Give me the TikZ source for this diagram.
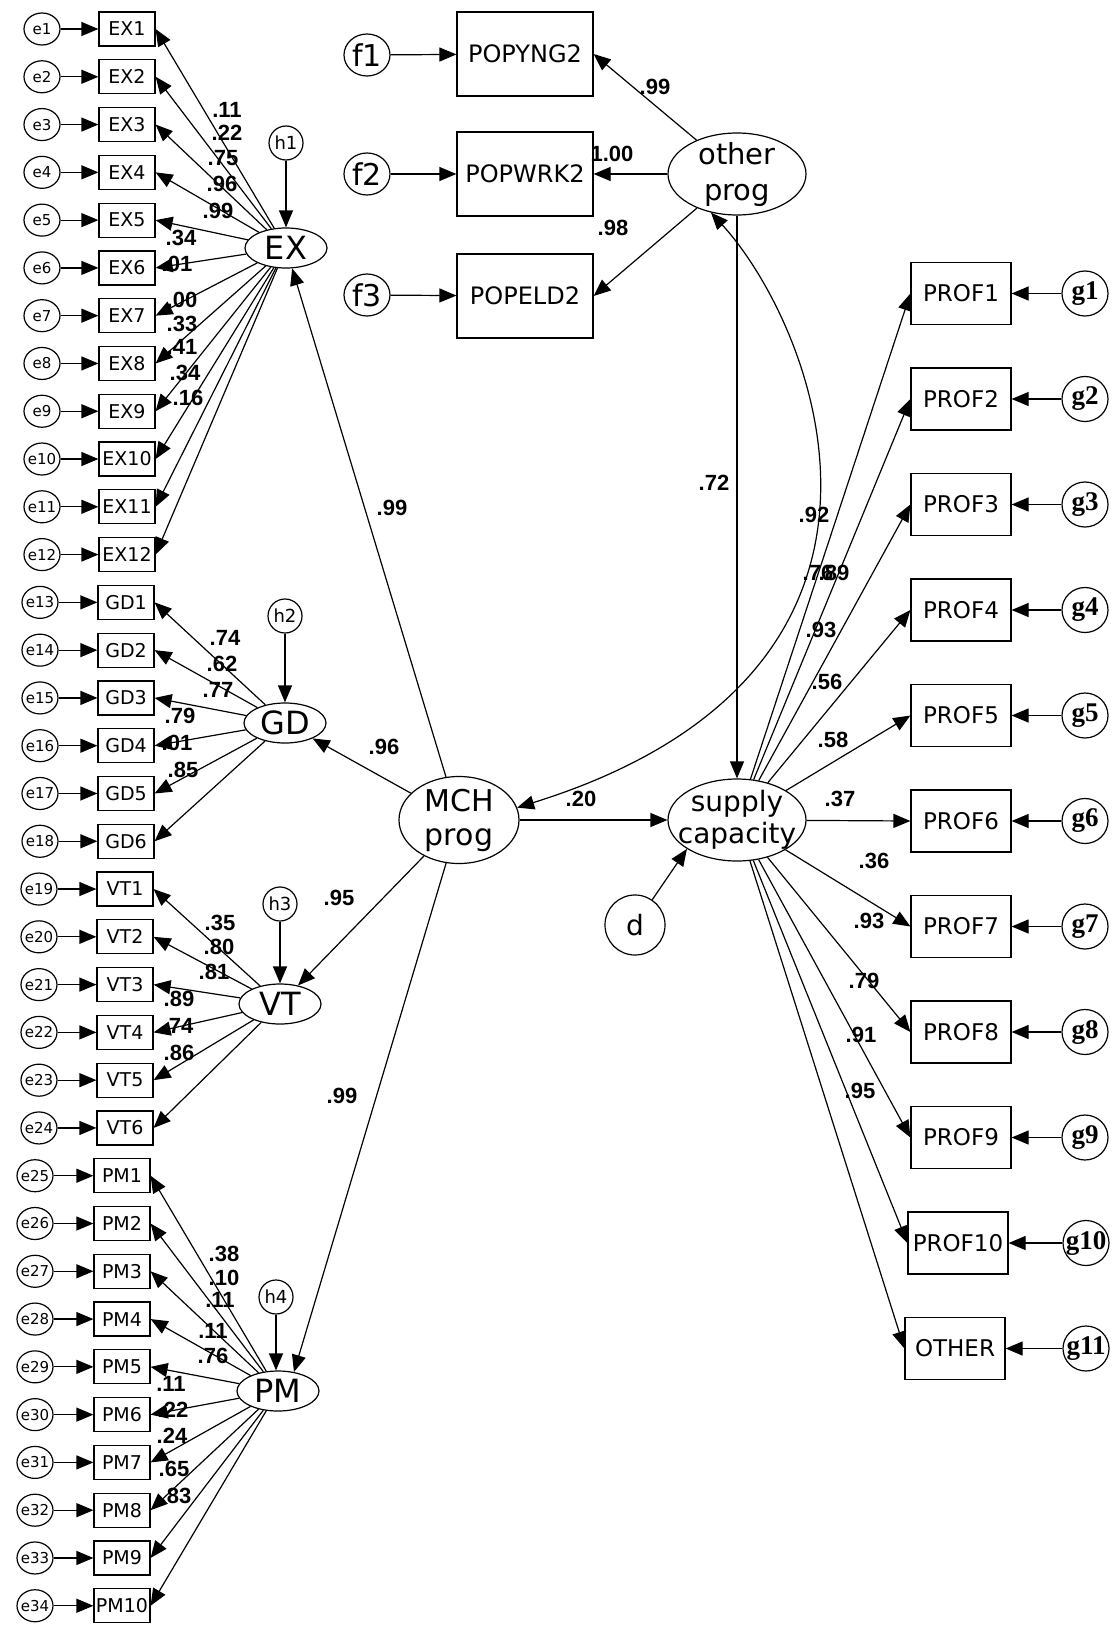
\documentclass[tikz,border=0pt]{standalone}
\usepackage{fontspec}
\setmainfont{DejaVu Sans}
\newfontfamily\numfont{Liberation Sans}
\newfontfamily\gfont{Liberation Serif}
\usetikzlibrary{arrows.meta,shapes.geometric}
\tikzset{
  >={Triangle[length=8.5pt,width=7pt]},
  arr/.style={->},
  cov/.style={<->},
  obs/.style={draw,minimum width=28pt,minimum height=17pt,inner sep=0pt,
    font=\fontsize{9.5}{10}\selectfont},
  prof/.style={draw,minimum width=50pt,minimum height=31pt,inner sep=0pt,
    font=\fontsize{11.5}{12}\selectfont},
  pop/.style={draw,minimum width=68pt,minimum height=42pt,inner sep=0pt,
    font=\fontsize{12}{13}\selectfont},
  err/.style={draw,ellipse,minimum width=18pt,minimum height=16pt,inner sep=-2pt,
    font=\fontsize{7.5}{8}\selectfont},
  dist/.style={draw,circle,minimum size=17pt,inner sep=0pt,
    font=\fontsize{9}{10}\selectfont},
  ferr/.style={draw,ellipse,minimum width=23pt,minimum height=21pt,inner sep=0pt,
    font=\fontsize{15}{16}\selectfont},
  gerr/.style={draw,ellipse,minimum width=23pt,minimum height=22.5pt,inner sep=-5pt,
    font=\gfont\bfseries\fontsize{13.5}{15}\selectfont},
  latent/.style={draw,ellipse,minimum width=41pt,minimum height=20pt,inner sep=0pt,
    font=\fontsize{16}{17}\selectfont},
  factor/.style={draw,ellipse,minimum width=69pt,minimum height=41pt,inner sep=-8pt,
    align=center,font=\fontsize{14}{16}\selectfont},
  coef/.style={inner sep=0pt,font=\numfont\bfseries\fontsize{11}{12}\selectfont}
}

\begin{document}
\begin{tikzpicture}[x=0.5pt,y=-0.5pt,line width=0.6pt]
  \useasboundingbox (0,0) rectangle (1114,1627);

  % latent variables
  \node[latent] (EX) at (286,248) {EX};
  \node[latent] (GD) at (285,723) {GD};
  \node[latent] (VT) at (280,1004) {VT};
  \node[latent] (PM) at (278,1391) {PM};
  \node[factor,minimum width=60pt,minimum height=43.5pt,font=\fontsize{15}{17}\selectfont] (mch) at (459,820) {MCH\\prog};
  \node[factor] (supply) at (737,820) {supply\\capacity};
  \node[factor,font=\fontsize{14.5}{18}\selectfont] (oprog) at (737,174) {other\\prog};

  % disturbances
  \node[dist] (h1) at (286,143) {h1};
  \node[dist] (h2) at (285,616) {h2};
  \node[dist] (h3) at (280,904) {h3};
  \node[dist] (h4) at (276,1297) {h4};
  \node[draw,circle,minimum size=30pt,inner sep=0pt,font=\fontsize{14}{15}\selectfont] (d) at (635,925) {d};

  % EX block
  \foreach \i in {1,...,12}{
    \pgfmathsetmacro\ry{29+47.78*(\i-1)}
    \node[err] (e\i) at (42,\ry) {e\i};
    \node[obs] (ex\i) at (127,\ry) {EX\i};
    \draw[arr] (e\i) -- (ex\i);
    \draw[arr] (EX) -- (ex\i.east);
  }
  % GD block
  \foreach \i in {1,...,6}{
    \pgfmathtruncatemacro\k{\i+12}
    \pgfmathsetmacro\ry{29+47.78*(\k-1)}
    \node[err] (e\k) at (40,\ry) {e\k};
    \node[obs] (gd\i) at (126,\ry) {GD\i};
    \draw[arr] (e\k) -- (gd\i);
    \draw[arr] (GD) -- (gd\i.east);
  }
  % VT block
  \foreach \i in {1,...,6}{
    \pgfmathtruncatemacro\k{\i+18}
    \pgfmathsetmacro\ry{29+47.78*(\k-1)}
    \node[err] (e\k) at (39,\ry) {e\k};
    \node[obs] (vt\i) at (125,\ry) {VT\i};
    \draw[arr] (e\k) -- (vt\i);
    \draw[arr] (VT) -- (vt\i.east);
  }
  % PM block
  \foreach \i in {1,...,10}{
    \pgfmathtruncatemacro\k{\i+24}
    \pgfmathsetmacro\ry{29+47.78*(\k-1)}
    \node[err] (e\k) at (35,\ry) {e\k};
    \node[obs] (pm\i) at (122,\ry) {PM\i};
    \draw[arr] (e\k) -- (pm\i);
    \draw[arr] (PM) -- (pm\i.east);
  }

  % other prog indicators
  \node[pop] (popyng2) at (525,54) {POPYNG2};
  \node[pop] (popwrk2) at (525,174) {POPWRK2};
  \node[pop] (popeld2) at (525,296) {POPELD2};
  \node[ferr] (f1) at (367,55) {f1};
  \node[ferr] (f2) at (367,174) {f2};
  \node[ferr] (f3) at (367,295) {f3};
  \draw[arr] (f1) -- (popyng2);
  \draw[arr] (f2) -- (popwrk2);
  \draw[arr] (f3) -- (popeld2);
  \draw[arr] (oprog) -- (popyng2.east);
  \draw[arr] (oprog) -- (popwrk2);
  \draw[arr] (oprog) -- (popeld2.east);

  % supply capacity indicators
  \foreach \i in {1,...,9}{
    \pgfmathsetmacro\ry{293.5+105.5*(\i-1)}
    \node[prof] (prof\i) at (961,\ry) {PROF\i};
    \node[gerr] (g\i) at (1085,\ry) {g\i};
    \draw[arr] (g\i) -- (prof\i);
    \draw[arr] (supply) -- (prof\i.west);
  }
  \node[prof] (prof10) at (958,1243) {PROF10};
  \node[gerr] (g10) at (1086,1243) {g10};
  \node[prof] (other) at (955,1348.5) {OTHER};
  \node[gerr] (g11) at (1086,1348.5) {g11};
  \draw[arr] (g10) -- (prof10);
  \draw[arr] (g11) -- (other);
  \draw[arr] (supply) -- (prof10.west);
  \draw[arr] (supply) -- (other.west);

  % structural paths
  \draw[arr] (h1) -- (EX);
  \draw[arr] (h2) -- (GD);
  \draw[arr] (h3) -- (VT);
  \draw[arr] (h4) -- (h4 |- PM.north);
  \draw[arr] (mch) -- (EX);
  \draw[arr] (mch) -- (GD);
  \draw[arr] (mch) -- (VT);
  \draw[arr] (mch) -- (PM.50);
  \draw[arr] (mch) -- (supply);
  \draw[arr] (oprog) -- (supply);
  \draw[arr] (d) -- (supply.210);
  \draw[cov] (mch.12) .. controls (955,671) and (814,325) .. (oprog.236);

  % loadings
  \foreach \v/\x/\y [count=\i] in {.11/227/110,.22/227/133,.75/223/158,.96/222/184,
      .99/218/211,.34/181/238,.01/177/264,.00/182/300,.33/182/324,.41/182/347,
      .34/185/373,.16/188/398}
    \node[coef] (lex\i) at (\x,\y) {\v};
  \foreach \v/\x/\y [count=\i] in {.74/225/638,.62/222/664,.77/218/690,.79/180/716,
      .01/177/743,.85/183/770}
    \node[coef] (lgd\i) at (\x,\y) {\v};
  \foreach \v/\x/\y [count=\i] in {.35/220/923,.80/219/947,.81/214/972,.89/179/999,
      .74/178/1026,.86/179/1053}
    \node[coef] (lvt\i) at (\x,\y) {\v};
  \foreach \v/\x/\y [count=\i] in {.38/224/1254,.10/224/1278,.11/220/1300,.11/213/1331,
      .76/213/1356,.11/171/1384,.22/173/1410,.24/172/1436,.65/174/1469,.83/176/1496}
    \node[coef] (lpm\i) at (\x,\y) {\v};
  \foreach \v/\x/\y [count=\i] in {.76/818/573,.89/834/573,.93/821/630,.56/827/682,
      .58/833/740,.37/840/799,.36/874/861,.93/869/921,.79/864/981,.91/861/1035,
      .95/860/1091}
    \node[coef] (lpr\i) at (\x,\y) {\v};
  \foreach \v/\x/\y [count=\i] in {.99/655/87,1.00/612/154,.98/613/228}
    \node[coef] (lpop\i) at (\x,\y) {\v};

  % structural coefficients
  \node[coef] (bex) at (392,508) {.99};
  \node[coef] (bgd) at (384,747) {.96};
  \node[coef] (bvt) at (339,898) {.95};
  \node[coef] (bpm) at (342,1096) {.99};
  \node[coef] (bsup) at (714,483) {.72};
  \node[coef] (bmch) at (581,799) {.20};
  \node[coef] (rcov) at (814,515) {.92};
\end{tikzpicture}
\end{document}
